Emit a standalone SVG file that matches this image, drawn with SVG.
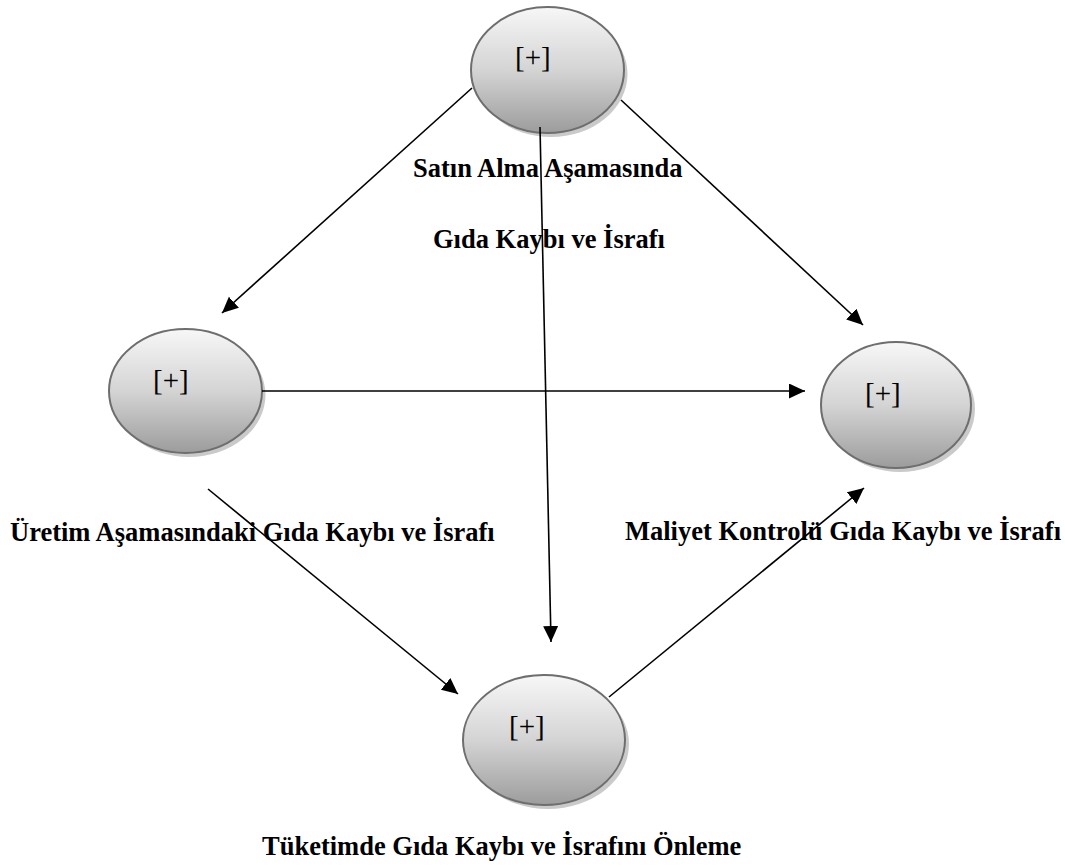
<svg xmlns="http://www.w3.org/2000/svg" width="1065" height="867" viewBox="0 0 1065 867">
<style>
.node{fill:url(#g);stroke:#6e6e6e;stroke-width:2}
.shadow{fill:#b4b4b4;opacity:0.7}
.plus{font-family:"Liberation Serif","Times New Roman",serif;font-size:29px;fill:#000}
.lbl{font-family:"Liberation Serif","Times New Roman",serif;font-size:26.5px;font-weight:bold;fill:#000}
.conn line{stroke:#000;stroke-width:1.6;marker-end:url(#ah)}
</style>
<defs>
<linearGradient id="g" x1="0" y1="0" x2="0" y2="1">
<stop offset="0" stop-color="#f7f7f7"/>
<stop offset="0.5" stop-color="#d4d4d4"/>
<stop offset="1" stop-color="#9c9c9c"/>
</linearGradient>
<marker id="ah" markerUnits="userSpaceOnUse" markerWidth="17" markerHeight="16" refX="16" refY="7.5" orient="auto">
<path d="M0,0 L16,7.5 L0,15 z" fill="#000"/>
</marker>
</defs>
<rect width="1065" height="867" fill="#fff"/>
<g id="n-top">
<ellipse class="shadow" cx="551" cy="74" rx="76.5" ry="63"/>
<ellipse class="node" cx="547.5" cy="70" rx="76.5" ry="63"/>
<text class="plus" x="515" y="67">[+]</text>
</g>
<g id="n-left">
<ellipse class="shadow" cx="189" cy="395" rx="76.5" ry="62"/>
<ellipse class="node" cx="185.5" cy="391" rx="76.5" ry="62"/>
<text class="plus" x="153" y="390">[+]</text>
</g>
<g id="n-right">
<ellipse class="shadow" cx="900" cy="409" rx="75" ry="63"/>
<ellipse class="node" cx="896" cy="405" rx="75" ry="63"/>
<text class="plus" x="865" y="403">[+]</text>
</g>
<g id="n-bottom">
<ellipse class="shadow" cx="548" cy="744" rx="81" ry="65"/>
<ellipse class="node" cx="544" cy="740" rx="81" ry="65"/>
<text class="plus" x="509" y="736">[+]</text>
</g>
<g id="connectors" class="conn">
<line x1="472" y1="88" x2="222" y2="313"/>
<line x1="621" y1="100" x2="863" y2="325"/>
<line x1="540" y1="127" x2="551" y2="642"/>
<line x1="262" y1="391" x2="805" y2="391"/>
<line x1="208" y1="489" x2="458" y2="694"/>
<line x1="609" y1="697" x2="864" y2="488"/>
</g>
<g id="labels">
<text class="lbl" x="413" y="177">Satın Alma Aşamasında</text>
<text class="lbl" x="433" y="248">Gıda Kaybı ve İsrafı</text>
<text class="lbl" x="10" y="541">Üretim Aşamasındaki Gıda Kaybı ve İsrafı</text>
<text class="lbl" x="625" y="540">Maliyet Kontrolü Gıda Kaybı ve İsrafı</text>
<text class="lbl" x="262" y="855">Tüketimde Gıda Kaybı ve İsrafını Önleme</text>
</g>
</svg>
